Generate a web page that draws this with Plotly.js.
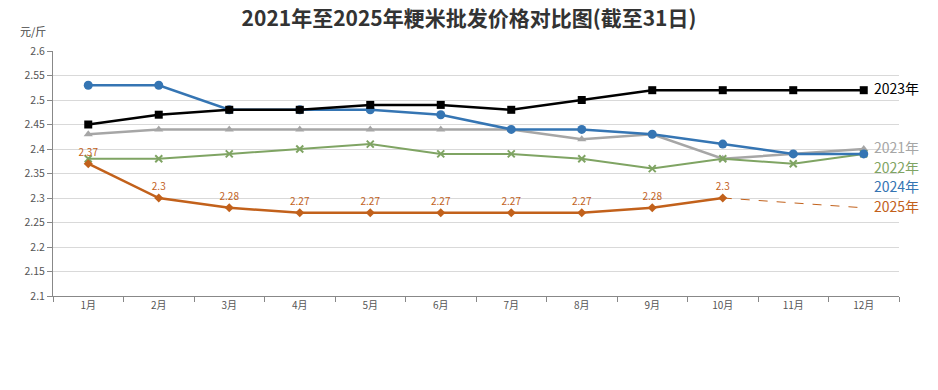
<!DOCTYPE html>
<html>
<head>
<meta charset="utf-8">
<script src="https://cdn.plot.ly/plotly-3.0.1.min.js"></script>
<style>html,body{margin:0;padding:0;background:#fff;}#chart{width:938px;height:390px;}</style>
</head>
<body>
<div id="chart"></div>
<script>
const months = ['1月','2月','3月','4月','5月','6月','7月','8月','9月','10月','11月','12月'];
const y2021 = [2.43, 2.44, 2.44, 2.44, 2.44, 2.44, 2.44, 2.42, 2.43, 2.38, 2.39, 2.40];
const y2022 = [2.38, 2.38, 2.39, 2.40, 2.41, 2.39, 2.39, 2.38, 2.36, 2.38, 2.37, 2.39];
const y2023 = [2.45, 2.47, 2.48, 2.48, 2.49, 2.49, 2.48, 2.50, 2.52, 2.52, 2.52, 2.52];
const y2024 = [2.53, 2.53, 2.48, 2.48, 2.48, 2.47, 2.44, 2.44, 2.43, 2.41, 2.39, 2.39];
const y2025 = [2.37, 2.30, 2.28, 2.27, 2.27, 2.27, 2.27, 2.27, 2.28, 2.30];
const trendMonths = ['10月', '12月'];
const trend2025 = [2.30, 2.28];
const seriesNames = ['2021年', '2022年', '2023年', '2024年', '2025年'];

const C = {g:'#A6A6A6', gr:'#7FA463', k:'#000000', b:'#3575B3', o:'#C2611B'};

const traces = [
  {x: months, y: y2021, name: seriesNames[0], mode: 'lines+markers',
   line: {color: C.g, width: 2.5}, marker: {symbol: 'triangle-up', size: 8, color: C.g}},
  {x: months, y: y2022, name: seriesNames[1], mode: 'lines+markers',
   line: {color: C.gr, width: 2}, marker: {symbol: 'x-thin', size: 7, line: {color: C.gr, width: 2}, color: C.gr}},
  {x: months, y: y2024, name: seriesNames[3], mode: 'lines+markers',
   line: {color: C.b, width: 2.5}, marker: {symbol: 'circle', size: 9, color: C.b}},
  {x: months, y: y2023, name: seriesNames[2], mode: 'lines+markers',
   line: {color: C.k, width: 2.5}, marker: {symbol: 'square', size: 8, color: C.k}},
  {x: trendMonths, y: trend2025, mode: 'lines', hoverinfo: 'skip',
   line: {color: C.o, width: 1, dash: 'dash'}},
  {x: months.slice(0, y2025.length), y: y2025, name: seriesNames[4], mode: 'lines+markers+text',
   text: y2025.map(v => String(v)), textposition: 'top center',
   textfont: {family: 'Noto Sans CJK SC, sans-serif', size: 10, color: C.o},
   line: {color: C.o, width: 2.5}, marker: {symbol: 'diamond', size: 7, color: C.o}}
];

const labelY = [2.40, 2.36, 2.52, 2.32, 2.28];
const labelCol = [C.g, C.gr, C.k, C.b, C.o];
const annotations = seriesNames.map((n, i) => ({
  x: '12月', y: labelY[i], xref: 'x', yref: 'y', text: n, showarrow: false,
  xanchor: 'left', yanchor: 'middle', xshift: 8, yshift: 2,
  font: {family: 'Noto Sans CJK SC, sans-serif', size: 14, color: labelCol[i]}
}));
annotations.push({
  x: 0, y: 1, xref: 'paper', yref: 'paper', text: '元/斤', showarrow: false,
  xanchor: 'center', yanchor: 'bottom', xshift: -20, yshift: 10,
  font: {family: 'Noto Sans CJK SC, sans-serif', size: 11, color: '#444'}
});

const layout = {
  width: 938, height: 390,
  margin: {l: 53, r: 39, t: 51, b: 94},
  paper_bgcolor: '#fff', plot_bgcolor: '#fff',
  showlegend: false,
  title: {text: '<b>2021年至2025年粳米批发价格对比图(截至31日)</b>', x: 0.5, xanchor: 'center', y: 0.952, yanchor: 'middle',
          font: {family: 'Noto Sans CJK SC, sans-serif', size: 21, color: '#333'}},
  xaxis: {type: 'category', categoryorder: 'array', categoryarray: months, range: [-0.5, 11.5],
          showgrid: false, showline: true, linecolor: '#888', linewidth: 1,
          ticks: 'outside', tickson: 'boundaries', ticklen: 5, tickcolor: '#888',
          tickfont: {family: 'Noto Sans CJK SC, sans-serif', size: 10, color: '#555'}, fixedrange: true},
  yaxis: {range: [2.1, 2.6], showgrid: true, gridcolor: '#D9D9D9', gridwidth: 1,
          showline: true, linecolor: '#888', ticks: 'outside', ticklen: 5, tickcolor: '#888',
          zeroline: false,
          tickvals: [2.1,2.15,2.2,2.25,2.3,2.35,2.4,2.45,2.5,2.55,2.6],
          ticktext: ['2.1','2.15','2.2','2.25','2.3','2.35','2.4','2.45','2.5','2.55','2.6'],
          tickfont: {family: 'Noto Sans CJK SC, sans-serif', size: 10.5, color: '#555'}},
  annotations: annotations
};

Plotly.newPlot('chart', traces, layout, {displayModeBar: false, staticPlot: true});
</script>
</body>
</html>
